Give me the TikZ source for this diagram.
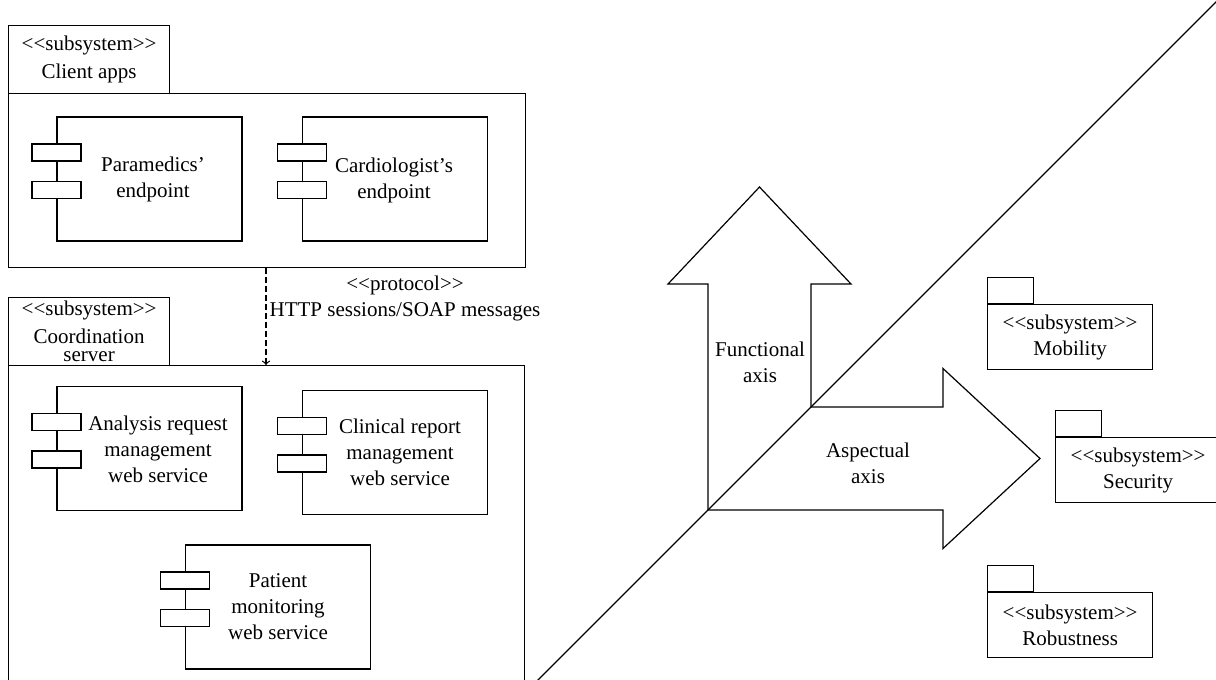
\documentclass[tikz,border=0pt]{standalone}
\usepackage{fontspec}
\setmainfont{Liberation Serif}
\newcommand\stereo[1]{<{}<#1>{}>}
\begin{document}
\begin{tikzpicture}[x=0.5pt, y=-0.5pt, line width=0.6pt,
    every node/.style={font=\fontsize{10.5}{13}\selectfont, align=center, inner sep=0pt},
    box/.style={draw, anchor=north west},
    comp/.style={draw, minimum width=92.5pt, minimum height=62pt},
    port/.style={draw, fill=white, minimum width=24.5pt, minimum height=8.5pt},
    tab/.style={draw, anchor=north west, minimum width=23pt, minimum height=13pt},
    pkg/.style={draw, anchor=north west, minimum width=82.5pt, minimum height=32.5pt}]
    \useasboundingbox (0,0) rectangle (1216,680);
    % Client apps
    \node[box, minimum width=80.5pt, minimum height=34pt] (cl-tab) at (8,25) {\stereo{subsystem}\\[1pt]Client apps};
    \node[box, minimum width=258.5pt, minimum height=87pt] (cl-body) at (8,93) {};
    \node[comp] (para) at (149.5,179) {};
    \node (para-txt) at (153,179) {Paramedics'\\endpoint};
    \node[comp] (card) at (395,179) {};
    \node (card-txt) at (394,180) {Cardiologist's\\endpoint};
    % Coordination server
    \node[box, minimum width=80.5pt, minimum height=34pt] (co-tab) at (8,297) {\stereo{subsystem}\\[1pt]Coordination\\[-4pt]server};
    \node[box, minimum width=258pt, minimum height=170pt] (co-body) at (8,365) {};
    \node[comp] (ana) at (149.5,448.5) {};
    \node (ana-txt) at (158,449) {Analysis request\\management\\web service};
    \node[comp] (clin) at (395,452.5) {};
    \node (clin-txt) at (400,452) {Clinical report\\management\\web service};
    \node[comp] (pat) at (278,607) {};
    \node (pat-txt) at (278,607) {Patient\\monitoring\\web service};
    % Ports
    \foreach \c in {para,card,ana,clin,pat} {
        \node[port] (\c-p1) at ([yshift=-18pt]\c.north west) {};
        \node[port] (\c-p2) at ([yshift=-36.75pt]\c.north west) {};
    }
    % Protocol
    \coordinate (link) at (266,0);
    \draw[dashed, dash pattern=on 3pt off 1.5pt, ->] (cl-body.south -| link) -- (co-body.north -| link);
    \node (proto) at (405,298) {\stereo{protocol}\\HTTP sessions/SOAP messages};
    % Diagonal
    \coordinate (d1) at (528,690);
    \coordinate (d2) at (1222,-4);
    \draw (d1) -- (d2);
    % Functional axis
    \draw (708,510) -- (708,284) -- (668,284) -- (759.5,187) -- (851,284) -- (811,284) -- (811,407);
    \node (func) at (760,362) {Functional\\axis};
    % Aspectual axis
    \draw (811,407) -- (943,407) -- (943,368.5) -- (1040,458.5) -- (943,548.5) -- (943,510) -- (708,510);
    \node (asp) at (868,463) {Aspectual\\axis};
    % Aspect subsystems
    \node[tab] (mob-tab) at (987,277) {};
    \node[pkg] (mob) at (mob-tab.south west) {\stereo{subsystem}\\Mobility};
    \node[tab] (sec-tab) at (1055,410) {};
    \node[pkg] (sec) at (sec-tab.south west) {\stereo{subsystem}\\Security};
    \node[tab] (rob-tab) at (987,565) {};
    \node[pkg] (rob) at (rob-tab.south west) {\stereo{subsystem}\\Robustness};
\end{tikzpicture}
\end{document}
